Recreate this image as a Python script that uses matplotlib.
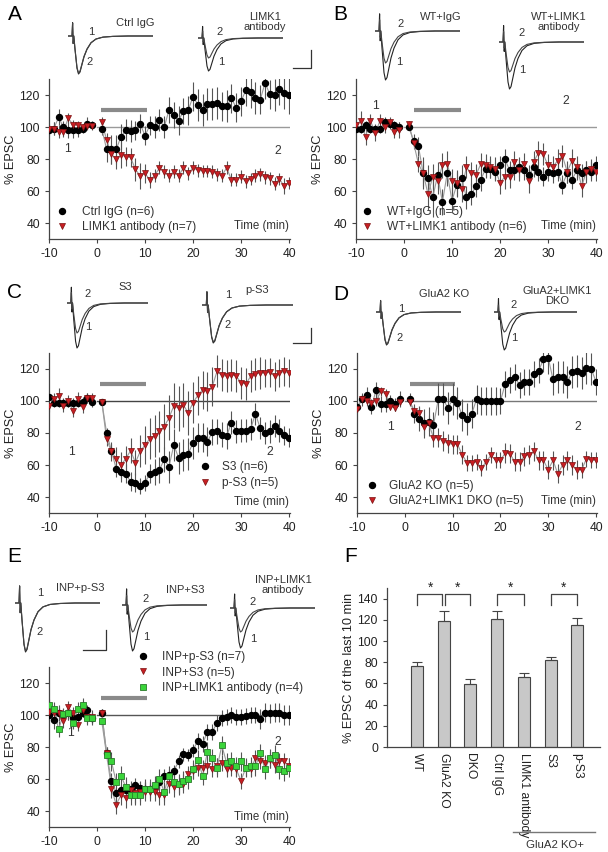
import matplotlib
matplotlib.use('Agg')
import matplotlib.pyplot as plt
from matplotlib.lines import Line2D

plt.rcParams['font.family'] = ['Liberation Sans', 'DejaVu Sans']
plt.rcParams['axes.unicode_minus'] = False

W, H = 608, 852

# time axis (min): 10 min baseline, then 40 min after the break at 0
minutes = list(range(-10, 0)) + list(range(1, 41))

# ---- A ----
a_ctrl = [98, 99, 106, 100, 98, 98, 98, 99, 102, 101,
          99, 86, 86, 86, 94, 98, 97.5, 98, 102, 94.5, 101, 100, 104.5, 100, 110.5, 107.5, 104, 110, 110.5, 119,
          114, 110.5, 114.5, 114.5, 115, 113, 113, 118, 112, 116, 123, 122, 118, 117, 127.5, 120.5, 120, 124, 121, 120]
a_ctrl_err = [3, 4, 5, 4, 5, 5, 4, 3, 4, 3,
              4, 8, 9, 9, 8, 7, 7, 6, 6, 6, 6, 7, 7, 7, 8, 8, 9, 8, 9, 9,
              10, 10, 10, 10, 10, 9, 10, 9, 9, 9, 10, 10, 10, 9, 10, 9, 10, 10, 10, 12]
a_limk = [99, 99, 97, 97, 105.5, 101.5, 101, 100, 100.5, 100.5,
          103, 92, 83, 80, 82.5, 81.5, 81, 73.5, 69.5, 71, 67, 69.5, 74.5, 72, 69.5, 72, 69.5, 74.5, 71, 74.5,
          73, 72.5, 72.5, 72, 70.5, 69.5, 74.5, 67, 67, 69, 66, 67.5, 69.5, 70.5, 68.5, 68, 64.5, 67.5, 63, 65]
a_limk_err = [3, 4, 4, 3, 3, 3, 3, 2, 2, 2,
              3, 4, 6, 6, 8, 6, 6, 7, 8, 6, 5, 4, 4, 4, 4, 4, 4, 4, 4, 4,
              4, 4, 4, 4, 4, 4, 4, 4, 4, 4, 4, 4, 4, 4, 4, 4, 4, 4, 5, 4]

# ---- B ----
b_igg = [99, 99, 101, 99, 99, 99, 103, 102, 101, 100,
         100, 91.5, 88, 71, 68, 56, 70, 53, 71, 54, 64, 68, 56, 58, 63, 67, 74, 74, 72, 76,
         80, 73, 73, 75, 73, 70, 75, 72, 69, 72, 71, 72, 64, 71, 67, 73, 71, 73, 72, 76]
b_igg_err = [3, 3, 3, 3, 3, 3, 3, 3, 3, 3,
             2, 4, 6, 10, 8, 12, 8, 8, 8, 8, 8, 8, 7, 7, 7, 7, 6, 6, 6, 6,
             6, 6, 6, 6, 6, 6, 6, 6, 6, 6, 6, 6, 6, 6, 6, 6, 6, 6, 6, 6]
b_limk = [101, 104, 94, 104, 96, 104, 100, 103, 97, 98,
          102, 90, 77, 71, 58, 69, 66, 76, 77, 66, 65, 61, 75, 71, 70, 77, 76, 75, 74, 65,
          69, 69, 78, 73, 77, 66, 78, 84, 83, 76, 75, 79, 82, 72, 79, 75, 63, 72, 74, 72]
b_limk_err = [3, 6, 5, 4, 5, 4, 4, 3, 4, 5,
              2, 4, 5, 8, 10, 8, 8, 8, 8, 8, 8, 8, 7, 7, 7, 7, 7, 7, 7, 7,
              8, 7, 7, 7, 7, 7, 7, 7, 7, 7, 7, 7, 7, 7, 7, 7, 7, 7, 6, 6]

# ---- C ----
c_s3 = [102.5, 99, 99, 99, 99, 99, 99, 99.5, 102, 99.5,
        99.5, 80, 69, 57.5, 55.5, 54.5, 49.5, 49, 47, 49, 54.5, 55.5, 57, 63.5, 59, 72.5, 64.5, 66, 67, 74,
        77, 77, 74.5, 80.5, 81, 79, 78, 86.5, 81, 81.5, 81.5, 82.5, 92, 83, 80, 81, 84.5, 81.5, 78.5, 77]
c_s3_err = [3, 3, 3, 3, 3, 3, 3, 3, 3, 3,
            2, 3, 4, 5, 6, 6, 6, 6, 5, 5, 6, 8, 8, 8, 10, 10, 10, 10, 10, 10,
            9, 9, 9, 8, 8, 8, 8, 7, 7, 7, 7, 7, 7, 7, 7, 7, 7, 7, 6, 6]
c_ps3 = [97, 101, 103, 97, 100, 94, 101.5, 96.5, 102, 102,
         99.5, 76, 68.5, 64, 60, 64, 69, 61.5, 68.5, 72.5, 76.5, 78, 81, 84, 89.5, 97, 95.5, 97.5, 92.5, 99,
         103.5, 107, 106, 109, 118.5, 116, 115.5, 116.5, 115.5, 111.5, 110.5, 115.5, 117, 117.5, 117.5, 118,
         115.5, 117.5, 118.5, 117.5]
c_ps3_err = [4, 4, 5, 4, 4, 4, 4, 4, 3, 3,
             2, 4, 6, 7, 8, 8, 8, 8, 10, 12, 13, 13, 13, 14, 14, 14, 14, 14, 14, 13,
             12, 12, 12, 12, 10, 10, 10, 10, 10, 10, 10, 10, 10, 10, 9, 9, 9, 9, 9, 9]

# ---- D ----
d_ko = [96, 101, 103.5, 96, 107, 98, 98, 100, 98, 101,
        101, 92, 89, 86, 87, 85, 101, 101.5, 95.5, 101, 99, 91, 89, 92, 101, 100, 100, 100, 100, 100,
        110.5, 113, 115, 110, 112, 112, 117, 119, 126, 127, 113.5, 115, 115, 112, 118, 118.5, 117.5, 120.5,
        120, 112]
d_ko_err = [3, 4, 5, 4, 5, 5, 5, 4, 4, 5,
            4, 6, 8, 9, 9, 8, 10, 10, 10, 10, 10, 10, 10, 9, 9, 9, 9, 9, 9, 8,
            8, 8, 8, 8, 8, 8, 8, 8, 8, 10, 10, 10, 10, 10, 10, 10, 10, 10, 10, 8]
d_dko = [95, 101, 100, 98.5, 100, 106, 104.5, 96.5, 95.5, 99.5,
         99.5, 94, 92.5, 83.5, 86, 77, 77, 75, 73.5, 73, 73, 66.5, 61.5, 61.5, 62, 58, 62, 66, 63, 63,
         67.5, 67, 62, 62, 65.5, 66.5, 68.5, 63, 63, 57, 63, 54.5, 60, 63, 60, 57, 57, 64, 63, 63]
d_dko_err = [2, 2, 3, 3, 3, 3, 3, 2, 2, 2,
             2, 3, 4, 5, 5, 6, 6, 6, 6, 6, 6, 6, 5, 5, 5, 5, 5, 5, 5, 5,
             6, 6, 6, 6, 6, 6, 6, 6, 6, 6, 6, 6, 6, 6, 6, 6, 5, 5, 5, 5]

# ---- E ----
e_ps3 = [100, 97, 101, 100, 101, 98, 99, 101.5, 103, 98,
         101, 76, 59, 51.5, 53, 53, 53.5, 56.5, 54.5, 54, 54, 55, 58, 62, 62.5, 65, 71, 75.5, 75, 78,
         84, 82, 89.5, 89.5, 95, 98, 98.5, 100, 98.5, 98.5, 99.5, 100, 100, 97.5, 101.5, 101, 101.5, 101.5,
         100, 100]
e_ps3_err = [4, 6, 5, 4, 4, 4, 3, 3, 3, 3,
             3, 4, 5, 4, 4, 4, 4, 4, 4, 4, 4, 4, 4, 4, 4, 4, 4, 4, 4, 4,
             5, 5, 5, 5, 5, 5, 5, 5, 5, 5, 5, 5, 5, 6, 6, 6, 6, 6, 6, 6]
e_s3 = [102, 101, 101, 96, 105, 101, 94, 103, 99, 99,
        101, 76, 54, 44, 50, 48, 53, 51, 52, 52, 52, 52, 50, 50, 57, 55, 56, 57, 63, 65,
        67, 67, 68, 66, 68, 70, 66, 67, 66, 59, 67, 66, 73, 71, 70, 72, 69, 71, 71, 68]
e_s3_err = [4, 5, 4, 4, 4, 4, 4, 4, 4, 4,
            3, 4, 6, 6, 6, 6, 6, 6, 6, 6, 6, 6, 6, 6, 6, 6, 6, 6, 5, 5,
            5, 5, 5, 5, 5, 5, 5, 5, 5, 5, 5, 5, 5, 5, 5, 5, 5, 5, 5, 5]
e_limk = [106, 104, 91, 100.5, 101, 95, 104, 106.5, 98, 98,
          96, 75, 71, 58, 62, 55, 50, 50, 50, 54, 54, 56, 60, 52, 62, 58, 57, 59, 60, 66,
          72, 62, 77, 73, 67, 81, 70, 71, 68, 71, 67, 68, 68, 76, 66, 73, 75, 66, 65, 67]
e_limk_err = [4, 4, 5, 4, 4, 4, 4, 4, 4, 4,
              3, 4, 6, 6, 6, 6, 6, 6, 6, 6, 6, 6, 6, 6, 6, 6, 6, 6, 6, 6,
              6, 6, 6, 6, 6, 6, 6, 6, 6, 6, 6, 6, 6, 6, 6, 6, 6, 6, 6, 6]

# ---- F ----
f_groups = ['WT', 'GluA2 KO', 'DKO', 'Ctrl IgG', 'LIMK1 antibody', 'S3', 'p-S3']
f_mean = [76, 119, 59, 121, 66, 82, 115]
f_sem = [4, 9, 5, 7, 4, 3, 7]
f_pairs = [(0, 1), (1, 2), (3, 4), (5, 6)]

# EPSC trace template (ms, normalised) and peak sizes of traces 1 and 2
trace_ms = [0, 4, 4.6, 5.2, 5.8, 7, 9, 10.5, 12, 14, 16, 19, 23, 28, 35, 45, 60, 85]
trace_shape = [0, 0, 0.35, -0.2, 0.0, -0.35, -0.85, -1.0, -0.95, -0.75, -0.55, -0.35, -0.18, -0.08,
               -0.03, -0.01, 0, 0]
amp_A = [(0.76, 0.74), (0.66, 0.40)]
amp_B = [(0.98, 0.64), (0.94, 0.60)]
amp_C = [(0.90, 0.60), (0.76, 0.74)]
amp_D = [(0.66, 0.64), (0.76, 0.40)]
amp_E = [(0.98, 0.96), (0.92, 0.54), (0.80, 0.48)]

RED = '#c81e23'
GREEN = '#3ad43a'
LEG_FS = 8.6

fig = plt.figure(figsize=(W / 100, H / 100), dpi=100)


def box(x0, y0, x1, y1):
    return [x0 / W, 1 - y1 / H, (x1 - x0) / W, (y1 - y0) / H]


def ftext(x, y, s, **kw):
    kw.setdefault('fontsize', 8)
    kw.setdefault('ha', 'center')
    kw.setdefault('va', 'center')
    kw.setdefault('color', '#333333')
    fig.text(x / W, 1 - y / H, s, **kw)


def style_axes(ax):
    for s in ['top', 'right']:
        ax.spines[s].set_visible(False)
    for s in ['left', 'bottom']:
        ax.spines[s].set_color('#444444')
        ax.spines[s].set_linewidth(0.9)
    ax.tick_params(labelsize=8.7, colors='#444444', labelcolor='#222222', length=3, width=0.8)


MARK = {'black': dict(marker='o', mfc='black', mec='black', ms=4.3),
        'red': dict(marker='v', mfc=RED, mec='#7a1010', ms=4.6, mew=0.5),
        'green': dict(marker='s', mfc=GREEN, mec='#2a7a2a', ms=4.2, mew=0.6)}


def time_panel(rect, series, ref_color, drug, marks12):
    ax = fig.add_axes(box(*rect))
    style_axes(ax)
    ax.set_xlim(-10, 40.2)
    ax.set_ylim(30, 130)
    ax.set_xticks([-10, 0, 10, 20, 30, 40])
    ax.set_yticks([40, 60, 80, 100, 120])
    ax.set_ylabel('% EPSC', fontsize=9.2, color='#222222', labelpad=2)
    ax.plot([0, 40], [100, 100], color=ref_color, lw=1.0, zorder=1)
    ax.plot(drug, [110.5, 110.5], color='#8a8a8a', lw=3, solid_capstyle='butt', zorder=1)
    for vals, errs, kind in series:
        ax.errorbar(minutes, vals, yerr=errs, fmt='none', ecolor='#555555', elinewidth=0.8, zorder=2)
        ax.plot(minutes[:10], vals[:10], color='#9a9a9a', lw=0.8, zorder=3)
        ax.plot(minutes[10:], vals[10:], color='#9a9a9a', lw=0.8, zorder=3)
        ax.plot(minutes, vals, ls='none', zorder=4, **MARK[kind])
    for (x, y), s in zip(marks12, ['1', '2']):
        ax.text(x, y, s, fontsize=8.7, color='#333333', ha='center', va='center')
    return ax


def legend(ax, labels, kinds, loc, anchor, pad):
    handles = [Line2D([], [], ls='none', **MARK[k]) for k in kinds]
    leg = ax.legend(handles, labels, loc=loc, bbox_to_anchor=anchor, frameon=False, fontsize=LEG_FS,
                    handlelength=1.0, handletextpad=pad, labelspacing=0.3, borderpad=0, borderaxespad=0)
    for t in leg.get_texts():
        t.set_color('#333333')


def time_label(ax, y):
    ax.text(0.995, y, 'Time (min)', transform=ax.transAxes, ha='right', va='center',
            fontsize=8.3, color='#333333')


def traces(x0, base, amps, width=85):
    ax = fig.add_axes(box(x0, base - 22, x0 + width, base + 52))
    ax.set_xlim(0, 85)
    ax.set_ylim(-1.04, 0.44)
    ax.axis('off')
    for a, c in zip(amps, ['#222222', '#444444']):
        ax.plot(trace_ms, [a * v for v in trace_shape], color=c, lw=0.8)


def scalebar(xl, xr, ytop, ybot):
    fig.add_artist(Line2D([xl / W, xr / W, xr / W], [1 - ybot / H, 1 - ybot / H, 1 - ytop / H],
                          color='#333333', lw=0.9))


# ---- panel A ----
axA = time_panel((49, 79, 290, 239), [(a_ctrl, a_ctrl_err, 'black'), (a_limk, a_limk_err, 'red')],
                 '#9a9a9a', [0.8, 10.4], [(-6.2, 86), (37.7, 85)])
legend(axA, ['Ctrl IgG (n=6)', 'LIMK1 antibody (n=7)'], ['black', 'red'], 'lower left', (0.029, 0.035), 1.18)
time_label(axA, 0.08)
traces(68, 36, amp_A[0])
traces(198, 38, amp_A[1])
ftext(135, 23, 'Ctrl IgG')
ftext(265, 22, 'LIMK1\nantibody', linespacing=1.1)
ftext(91, 32, '1'); ftext(90, 62, '2')
ftext(220, 32, '2'); ftext(221, 62, '1')
scalebar(293, 311, 50, 68)

# ---- panel B ----
axB = time_panel((356, 79, 597, 239), [(b_igg, b_igg_err, 'black'), (b_limk, b_limk_err, 'red')],
                 '#9a9a9a', [2.0, 11.8], [(-5.9, 113), (33.8, 116)])
legend(axB, ['WT+IgG (n=5)', 'WT+LIMK1 antibody (n=6)'], ['black', 'red'], 'lower left', (0.021, 0.035), 1.18)
time_label(axB, 0.08)
traces(375, 31, amp_B[0])
traces(499, 42, amp_B[1])
ftext(441, 17, 'WT+IgG')
ftext(559, 22, 'WT+LIMK1\nantibody', linespacing=1.1)
ftext(401, 24, '2'); ftext(399, 62, '1')
ftext(522, 33, '2'); ftext(522, 70, '1')

# ---- panel C ----
axC = time_panel((49, 353, 290, 513), [(c_s3, c_s3_err, 'black'), (c_ps3, c_ps3_err, 'red')],
                 '#444444', [0.7, 10.3], [(-5.4, 68), (36, 68)])
legend(axC, ['S3 (n=6)', 'p-S3 (n=5)'], ['black', 'red'], 'lower left', (0.622, 0.15), 0.92)
time_label(axC, 0.07)
traces(67, 303, amp_C[0], 81)
traces(202, 305, amp_C[1], 91)
ftext(125, 287, 'S3')
ftext(257, 290, 'p-S3')
ftext(88, 294, '2'); ftext(88, 327, '1')
ftext(228, 295, '1'); ftext(228, 325, '2')
scalebar(293, 311, 328, 343)

# ---- panel D ----
axD = time_panel((357, 353, 597, 513), [(d_ko, d_ko_err, 'black'), (d_dko, d_dko_err, 'red')],
                 '#777777', [1.0, 10.6], [(-3.1, 84), (36.2, 84)])
legend(axD, ['GluA2 KO (n=5)', 'GluA2+LIMK1 DKO (n=5)'], ['black', 'red'], 'lower left', (0.0375, 0.035), 0.92)
time_label(axD, 0.075)
traces(376, 312, amp_D[0])
traces(494, 312, amp_D[1], 83)
ftext(444, 294, 'GluA2 KO')
ftext(557, 296, 'GluA2+LIMK1\nDKO', linespacing=1.1)
ftext(401, 309, '1'); ftext(400, 338, '2')
ftext(514, 305, '2'); ftext(514, 338, '1')

# ---- panel E ----
axE = time_panel((49, 667, 290, 827), [(e_ps3, e_ps3_err, 'black'), (e_s3, e_s3_err, 'red'),
                                       (e_limk, e_limk_err, 'green')],
                 '#555555', [0.8, 10.4], [(-5.6, 89), (37.7, 83)])
legend(axE, ['INP+p-S3 (n=7)', 'INP+S3 (n=5)', 'INP+LIMK1 antibody (n=4)'], ['black', 'red', 'green'],
       'upper left', (0.365, 1.10), 1.1)
time_label(axE, 0.0625)
traces(15, 603, amp_E[0])
traces(122, 605, amp_E[1])
traces(230, 608, amp_E[2])
ftext(80, 588, 'INP+p-S3')
ftext(185, 590, 'INP+S3')
ftext(283, 585, 'INP+LIMK1\nantibody', linespacing=1.1)
ftext(40, 593, '1'); ftext(40, 632, '2')
ftext(146, 599, '2'); ftext(146, 637, '1')
ftext(253, 602, '2'); ftext(253, 639, '1')
scalebar(83, 106, 630, 650)

# ---- panel F ----
axF = fig.add_axes(box(387, 588, 600, 747))
style_axes(axF)
xs = list(range(len(f_groups)))
axF.bar(xs, f_mean, width=0.45, color='#c8c8c8', edgecolor='#444444', linewidth=0.8, zorder=2)
axF.errorbar(xs, f_mean, yerr=[[0] * len(f_sem), f_sem], fmt='none', ecolor='#444444',
             elinewidth=0.8, capsize=3.5, capthick=0.8, zorder=3)
axF.set_xlim(-1.12, 6.85)
axF.set_ylim(0, 150)
axF.set_yticks(range(0, 141, 20))
axF.set_xticks(xs)
axF.set_xticklabels(f_groups, rotation=-90, va='top', ha='center', fontsize=8.7)
axF.tick_params(axis='x', length=0, pad=4)
axF.set_ylabel('% EPSC of the last 10 min', fontsize=9.2, color='#222222', labelpad=2)
for i, j in f_pairs:
    l, r = i + 0.06 if i == 1 else i, j - 0.06 if j == 1 else j
    axF.plot([l, l, r, r], [134, 144, 144, 134], color='#444444', lw=0.9, clip_on=False)
    axF.text((i + j) / 2, 150, '*', ha='center', va='center', fontsize=10, color='#222222')
axF.plot([3.6, 6.67], [-80.4, -80.4], color='#777777', lw=1.0, clip_on=False)
axF.text(5.17, -92.5, 'GluA2 KO+', ha='center', va='center', fontsize=8.2, color='#333333')

# panel letters
for x, y, s in [(15, 15, 'A'), (340, 14, 'B'), (14, 292, 'C'), (341, 295, 'D'), (14, 556, 'E'),
                (351, 557, 'F')]:
    ftext(x, y, s, fontsize=15, color='black')

fig.savefig('out.png', dpi=100)
